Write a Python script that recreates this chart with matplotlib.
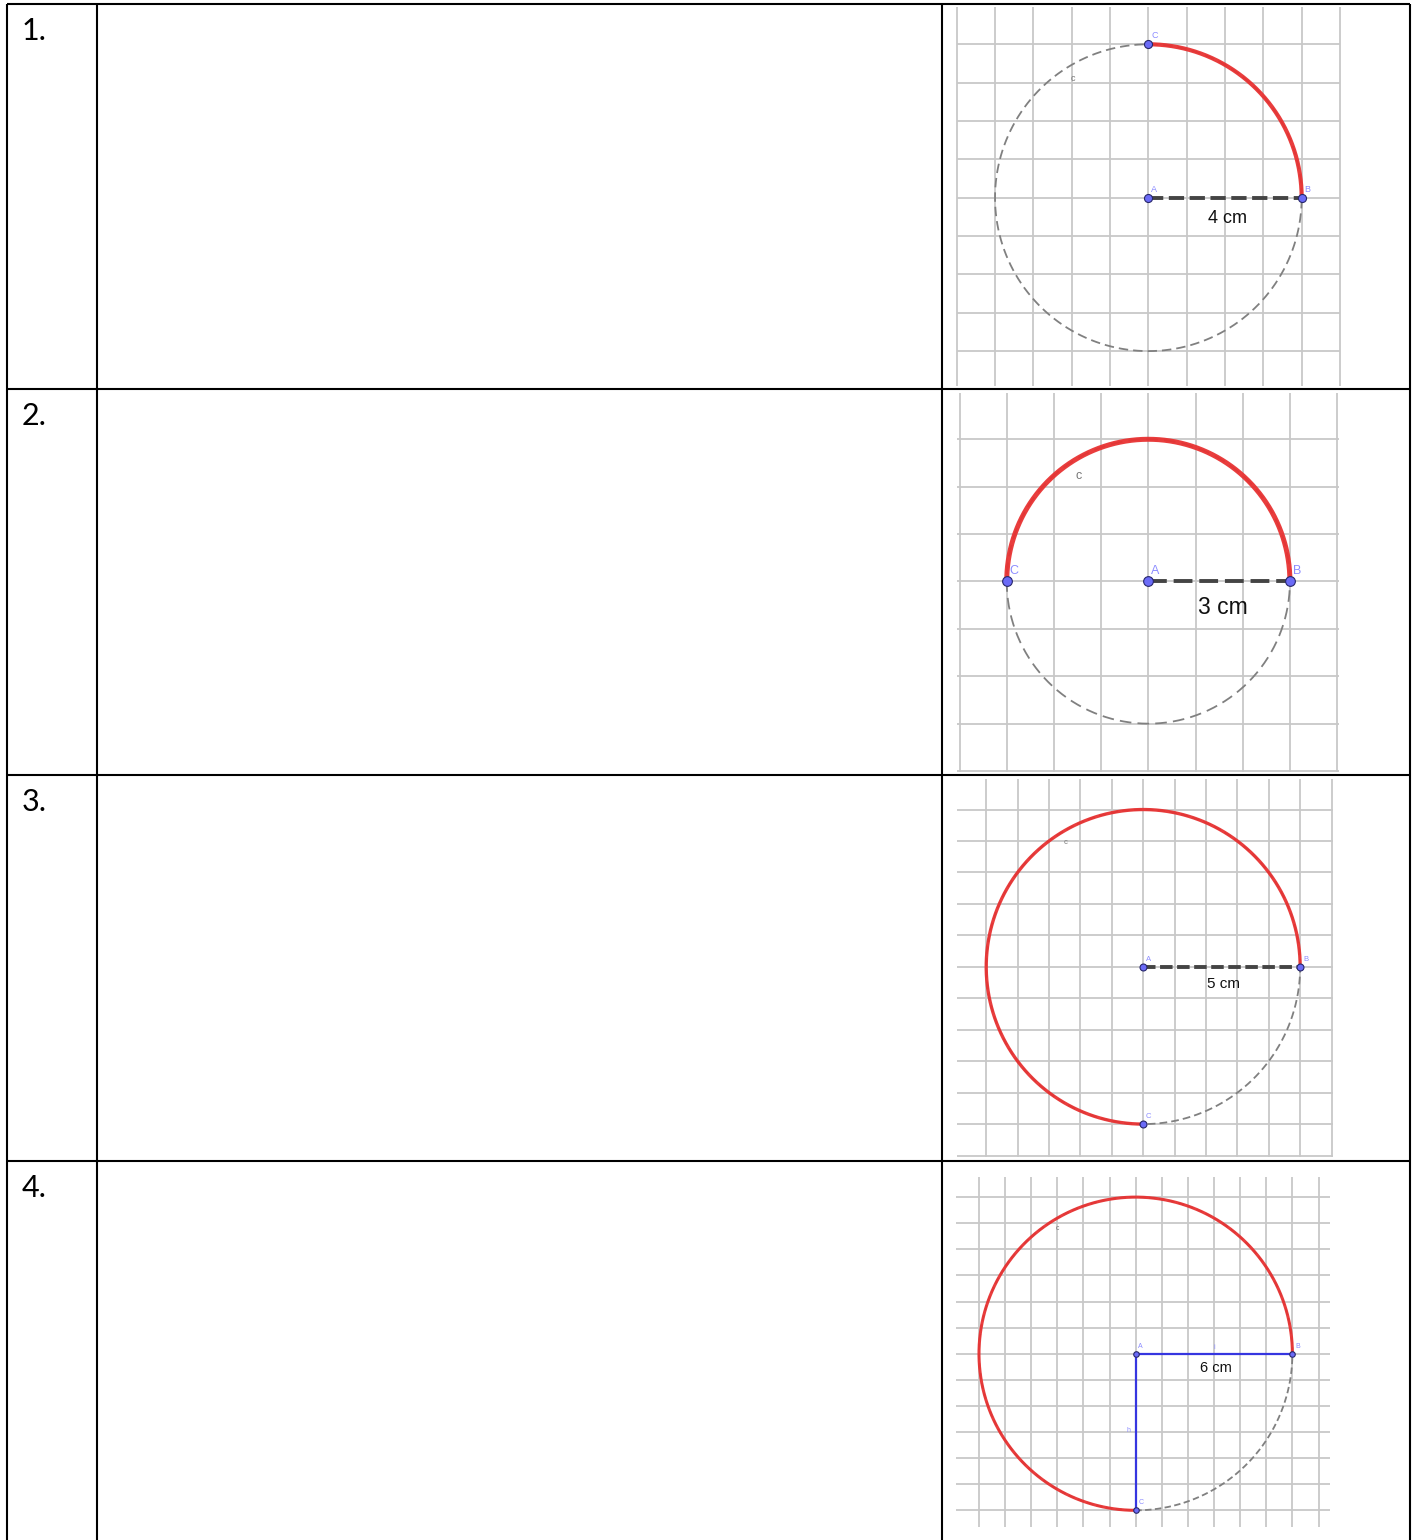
import numpy as np
import matplotlib
matplotlib.use("Agg")
import matplotlib.pyplot as plt

# table content
row_labels = ["1.", "2.", "3.", "4."]
radii = [4, 3, 5, 6]                      # cm, one grid cell = 1 cm
arc_end_deg = [90, 180, 270, 270]         # red arc runs counter-clockwise from B (0 deg)
radius_text = ["4 cm", "3 cm", "5 cm", "6 cm"]
blue_radius = [False, False, False, True]  # row 4 has solid blue radii A-B and A-C

# layout (pixels of the 1415x1540 page)
W, H = 1415, 1540
table_cols = [7, 97, 942, 1410]
table_rows = [4, 389, 775, 1161]
panel_px = [(956.7, 6.7, 1340, 386), (956.7, 393.3, 1339, 772),
            (956.7, 778.7, 1332.5, 1156.5), (956, 1177, 1330, 1527.3)]
panel_view = [(-5.0, 5.0, -4.91, 4.98), (-4.06, 4.04, -4.02, 3.97),
              (-5.94, 6.03, -6.03, 5.98), (-6.88, 7.44, -6.65, 6.77)]
c_label_pos = [(-1.96, 3.10), (-1.48, 2.23), (-2.46, 3.95), (-2.98, 4.78)]
text_size = [13, 16.5, 11, 10.5]
point_size = [5.8, 7.0, 5.0, 4.0]
arc_width = [3.0, 3.6, 2.4, 2.2]
label_size = [6.5, 9, 5.5, 5]

plt.rcParams['lines.scale_dashes'] = False

fig = plt.figure(figsize=(W / 100, H / 100), dpi=100)

# table grid
tab = fig.add_axes([0, 0, 1, 1])
tab.set_xlim(0, W)
tab.set_ylim(H, 0)
tab.axis("off")
for x in table_cols:
    tab.plot([x, x], [table_rows[0], H], color="black", lw=1.5, solid_capstyle="butt")
for y in table_rows:
    tab.plot([table_cols[0], table_cols[-1]], [y, y], color="black", lw=1.5, solid_capstyle="butt")
for y, lab in zip(table_rows, row_labels):
    tab.text(22, y + 36, lab, fontsize=22, family="Lato", va="baseline", ha="left")

red = "#e83232"
pt_fill = "#6b6bf7"
pt_edge = "#27276b"
lab_col = "#8c8cff"

for i in range(4):
    x0, y0, x1, y1 = panel_px[i]
    ax = fig.add_axes([x0 / W, 1 - y1 / H, (x1 - x0) / W, (y1 - y0) / H])
    ax.set_facecolor("none")
    xmin, xmax, ymin, ymax = panel_view[i]
    ax.set_xlim(xmin, xmax)
    ax.set_ylim(ymin, ymax)
    ax.axis("off")

    # squared paper
    xs = np.arange(np.ceil(xmin - 0.01), np.floor(xmax + 0.01) + 1)
    ys = np.arange(np.ceil(ymin - 0.01), np.floor(ymax + 0.01) + 1)
    ax.vlines(xs, ymin, ymax, color="#c8c8c8", lw=1.3, clip_on=False, zorder=1)
    ax.hlines(ys, xmin, xmax, color="#c8c8c8", lw=1.3, clip_on=False, zorder=1)

    r = radii[i]
    scale = (x1 - x0) / (xmax - xmin) / 38.35
    t = np.linspace(0, 2 * np.pi, 721)
    ax.plot(r * np.cos(t), r * np.sin(t), color="#808080", lw=1.3,
            dashes=(6.8 * scale, 3.6 * scale), zorder=2)
    ta = np.linspace(0, np.radians(arc_end_deg[i]), 400)
    ax.plot(r * np.cos(ta), r * np.sin(ta), color=red, lw=arc_width[i],
            alpha=0.95, solid_capstyle="butt", zorder=3)

    if blue_radius[i]:
        ax.plot([0, r], [0, 0], color="#3636e0", lw=1.6, zorder=4)
        ax.plot([0, 0], [0, -r], color="#3636e0", lw=1.6, zorder=4)
        ax.text(-0.28, -r / 2 + 0.05, "h", fontsize=label_size[i], color=lab_col,
                family="Liberation Sans", ha="center", va="center")
        ax.text(r / 2, 0.1, "i", fontsize=label_size[i], color=lab_col,
                family="Liberation Sans", ha="center", va="bottom")
    else:
        ax.plot([0, r], [0, 0], color="#444444", lw=2.8,
                dashes=(11 * scale, 4 * scale), zorder=4)

    ax.text(r / 2 + 0.07, -0.55, radius_text[i], fontsize=text_size[i],
            family="Liberation Sans", ha="center", va="center", color="#111111")

    # points A, B, C
    c_ang = np.radians(arc_end_deg[i])
    pts = {"A": (0, 0), "B": (r, 0), "C": (r * np.cos(c_ang), r * np.sin(c_ang))}
    for name, (px, py) in pts.items():
        ax.plot(px, py, "o", ms=point_size[i], mfc=pt_fill, mec=pt_edge, mew=0.8, zorder=5)
        ax.annotate(name, (px, py), xytext=(2, 3), textcoords="offset points",
                    fontsize=label_size[i], color=lab_col, family="Liberation Sans",
                    ha="left", va="bottom")
    ax.text(*c_label_pos[i], "c", fontsize=label_size[i], color="#777777",
            family="Liberation Sans", ha="center", va="center")

fig.savefig("out.png", dpi=100)
